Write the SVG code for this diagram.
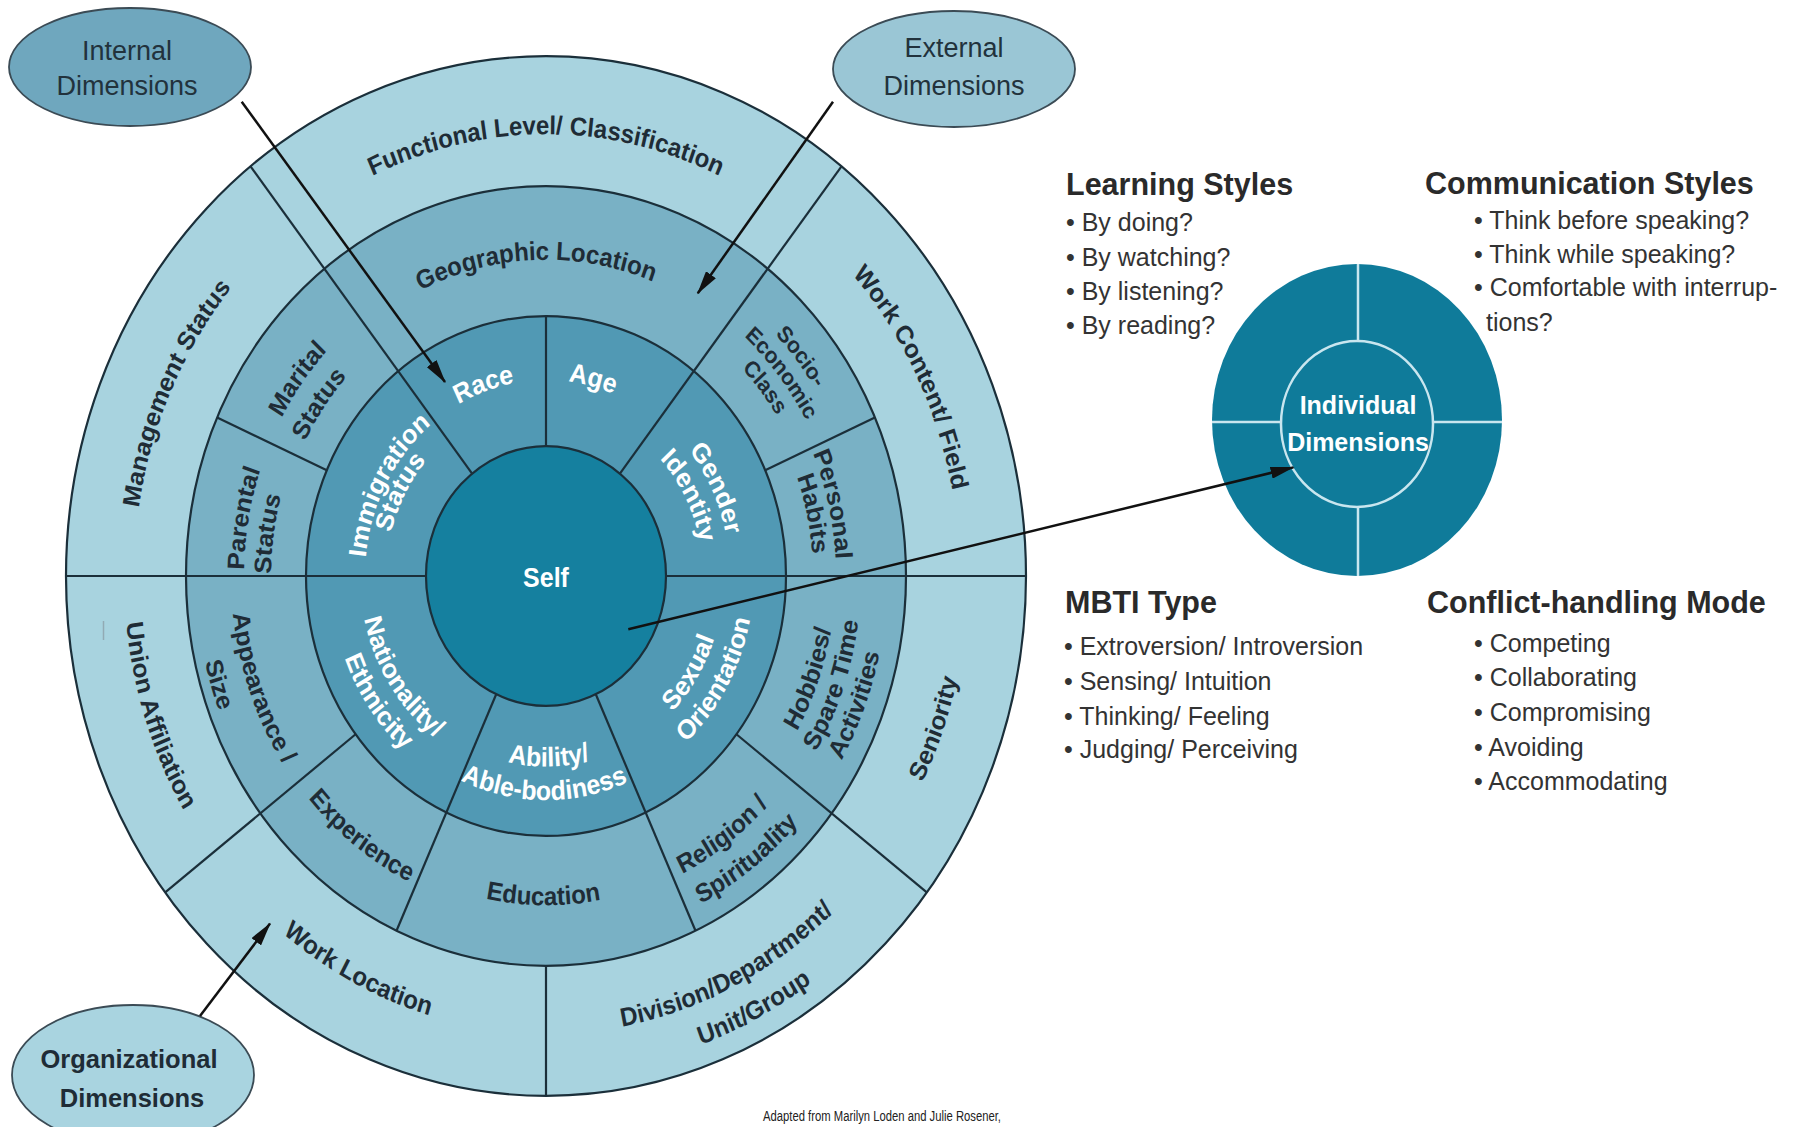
<svg xmlns="http://www.w3.org/2000/svg" width="1804" height="1127" viewBox="0 0 1804 1127">
<style>
.ring{stroke:#1b2f3a;stroke-width:2.2;vector-effect:non-scaling-stroke}
.dv{stroke:#1b2f3a;stroke-width:2.2;vector-effect:non-scaling-stroke;fill:none}
.ld{font-family:"Liberation Sans",Arial,sans-serif;font-weight:bold;font-size:24px;fill:#1f2c36}
.ls{font-family:"Liberation Sans",Arial,sans-serif;font-weight:bold;font-size:21px;fill:#1f2c36}
.lw{font-family:"Liberation Sans",Arial,sans-serif;font-weight:bold;font-size:25px;fill:#ffffff}
.ell{stroke:#3b4b55;stroke-width:1.8}
.et{font-family:"Liberation Sans",Arial,sans-serif;font-size:27px;fill:#22323c;text-anchor:middle}
.eb{font-family:"Liberation Sans",Arial,sans-serif;font-weight:bold;font-size:25.5px;fill:#1f2c36;text-anchor:middle}
.h{font-family:"Liberation Sans",Arial,sans-serif;font-weight:bold;font-size:30.5px;fill:#2a2a2a}
.b{font-family:"Liberation Sans",Arial,sans-serif;font-size:25px;fill:#333333}
.iw{font-family:"Liberation Sans",Arial,sans-serif;font-weight:bold;font-size:25px;fill:#ffffff;text-anchor:middle}
.conn{stroke:#111111;stroke-width:2.5;fill:none}
</style>
<defs>
<marker id="ah" viewBox="0 0 20 10" refX="19" refY="5" markerWidth="24" markerHeight="12" markerUnits="userSpaceOnUse" orient="auto"><path d="M0,0 L20,5 L0,10 Z" fill="#111111"/></marker>
<path id="cw408" d="M-408,0 A408,408 0 0 1 408,0"/>
<path id="cw412" d="M-412,0 A412,412 0 0 1 412,0"/>
<path id="cw414" d="M-414,0 A414,414 0 0 1 414,0"/>
<path id="cw292" d="M-292,0 A292,292 0 0 1 292,0"/>
<path id="cw302" d="M-302,0 A302,302 0 0 1 302,0"/>
<path id="cw271" d="M-271,0 A271,271 0 0 1 271,0"/>
<path id="cw275" d="M-275,0 A275,275 0 0 1 275,0"/>
<path id="cw320" d="M-320,0 A320,320 0 0 1 320,0"/>
<path id="cw297" d="M-297,0 A297,297 0 0 1 297,0"/>
<path id="cw274" d="M-274,0 A274,274 0 0 1 274,0"/>
<path id="cw290" d="M-290,0 A290,290 0 0 1 290,0"/>
<path id="cw267" d="M-267,0 A267,267 0 0 1 267,0"/>
<path id="cw181" d="M-181,0 A181,181 0 0 1 181,0"/>
<path id="cw184" d="M-184,0 A184,184 0 0 1 184,0"/>
<path id="cw157" d="M-157,0 A157,157 0 0 1 157,0"/>
<path id="cw160" d="M-160,0 A160,160 0 0 1 160,0"/>
<path id="ccw422" d="M-422,0 A422,422 0 0 0 422,0"/>
<path id="ccw423" d="M-423,0 A423,423 0 0 0 423,0"/>
<path id="ccw460" d="M-460,0 A460,460 0 0 0 460,0"/>
<path id="ccw289" d="M-289,0 A289,289 0 0 0 289,0"/>
<path id="ccw315" d="M-315,0 A315,315 0 0 0 315,0"/>
<path id="ccw341" d="M-341,0 A341,341 0 0 0 341,0"/>
<path id="ccw307" d="M-307,0 A307,307 0 0 0 307,0"/>
<path id="ccw340" d="M-340,0 A340,340 0 0 0 340,0"/>
<path id="ccw304" d="M-304,0 A304,304 0 0 0 304,0"/>
<path id="ccw314" d="M-314,0 A314,314 0 0 0 314,0"/>
<path id="ccw350" d="M-350,0 A350,350 0 0 0 350,0"/>
<path id="ccw176" d="M-176,0 A176,176 0 0 0 176,0"/>
<path id="ccw207" d="M-207,0 A207,207 0 0 0 207,0"/>
<path id="ccw186" d="M-186,0 A186,186 0 0 0 186,0"/>
<path id="ccw215" d="M-215,0 A215,215 0 0 0 215,0"/>
<path id="ccw178" d="M-178,0 A178,178 0 0 0 178,0"/>
<path id="ccw208" d="M-208,0 A208,208 0 0 0 208,0"/>
</defs>

<rect x="0" y="0" width="1804" height="1127" fill="#ffffff"/>

<g id="wheel" transform="translate(546,576) scale(1,1.083)">
  <g id="rings">
    <circle class="ring" r="480" fill="#a8d3df"/>
    <circle class="ring" r="360" fill="#79b1c5"/>
    <circle class="ring" r="240" fill="#5199b4"/>
    <circle class="ring" r="120" fill="#15809f"/>
  </g>
  <g id="dividers">
    <line class="dv" x1="-73.9" y1="-94.6" x2="-295.5" y2="-378.3"/>
    <line class="dv" x1="73.9" y1="-94.6" x2="295.5" y2="-378.3"/>
    <line class="dv" x1="-120" y1="0" x2="-480" y2="0"/>
    <line class="dv" x1="120" y1="0" x2="480" y2="0"/>
    <line class="dv" x1="0" y1="-120" x2="0" y2="-240"/>
    <line class="dv" x1="-219.2" y1="-97.6" x2="-328.9" y2="-146.4"/>
    <line class="dv" x1="219.2" y1="-97.6" x2="328.9" y2="-146.4"/>
    <line class="dv" x1="-49.8" y1="109.2" x2="-149.5" y2="327.6"/>
    <line class="dv" x1="49.8" y1="109.2" x2="149.5" y2="327.6"/>
    <line class="dv" x1="-190.4" y1="146.1" x2="-380.8" y2="292.2"/>
    <line class="dv" x1="190.4" y1="146.1" x2="380.8" y2="292.2"/>
    <line class="dv" x1="0" y1="360" x2="0" y2="480"/>
  </g>
  <g id="organizational-labels">
    <text class="ld"><textPath href="#cw408" startOffset="50%" text-anchor="middle">Functional Level/ Classification</textPath></text>
    <g transform="rotate(-65.5)"><text class="ld"><textPath href="#cw412" startOffset="50%" text-anchor="middle">Management Status</textPath></text></g>
    <g transform="rotate(63.4)"><text class="ld"><textPath href="#cw414" startOffset="50%" text-anchor="middle">Work Content/ Field</textPath></text></g>
    <g transform="rotate(71.6)"><text class="ld"><textPath href="#ccw422" startOffset="50%" text-anchor="middle">Union Affiliation</textPath></text></g>
    <g transform="rotate(-70.1)"><text class="ld"><textPath href="#ccw422" startOffset="50%" text-anchor="middle">Seniority</textPath></text></g>
    <g transform="rotate(27.3)"><text class="ld"><textPath href="#ccw422" startOffset="50%" text-anchor="middle">Work Location</textPath></text></g>
    <g transform="rotate(-26.6)"><text class="ld"><textPath href="#ccw423" startOffset="50%" text-anchor="middle">Division/Department/</textPath></text></g>
    <g transform="rotate(-27.5)"><text class="ld"><textPath href="#ccw460" startOffset="50%" text-anchor="middle">Unit/Group</textPath></text></g>
  </g>
  <g id="external-labels">
    <g transform="rotate(-2)"><text class="ld"><textPath href="#cw292" startOffset="50%" text-anchor="middle">Geographic Location</textPath></text></g>
    <g transform="rotate(-53.8)"><text class="ld"><textPath href="#cw302" startOffset="50%" text-anchor="middle">Marital</textPath></text></g>
    <g transform="rotate(-55)"><text class="ld"><textPath href="#cw271" startOffset="50%" text-anchor="middle">Status</textPath></text></g>
    <g transform="rotate(-80)"><text class="ld"><textPath href="#cw302" startOffset="50%" text-anchor="middle">Parental</textPath></text></g>
    <g transform="rotate(-82)"><text class="ld"><textPath href="#cw275" startOffset="50%" text-anchor="middle">Status</textPath></text></g>
    <g transform="rotate(51.5)"><text class="ls"><textPath href="#cw320" startOffset="50%" text-anchor="middle">Socio-</textPath></text></g>
    <g transform="rotate(51.5)"><text class="ls"><textPath href="#cw297" startOffset="50%" text-anchor="middle">Economic</textPath></text></g>
    <g transform="rotate(51.5)"><text class="ls"><textPath href="#cw274" startOffset="50%" text-anchor="middle">Class</textPath></text></g>
    <g transform="rotate(77)"><text class="ld"><textPath href="#cw290" startOffset="50%" text-anchor="middle">Personal</textPath></text></g>
    <g transform="rotate(77.8)"><text class="ld"><textPath href="#cw267" startOffset="50%" text-anchor="middle">Habits</textPath></text></g>
    <g transform="rotate(-70.25)"><text class="ld" font-size="22"><textPath href="#ccw289" startOffset="50%" text-anchor="middle">Hobbies/</textPath></text></g>
    <g transform="rotate(-70.7)"><text class="ld" font-size="22"><textPath href="#ccw315" startOffset="50%" text-anchor="middle">Spare Time</textPath></text></g>
    <g transform="rotate(-69)"><text class="ld" font-size="22"><textPath href="#ccw341" startOffset="50%" text-anchor="middle">Activities</textPath></text></g>
    <g transform="rotate(-36.4)"><text class="ld" font-size="22"><textPath href="#ccw307" startOffset="50%" text-anchor="middle">Religion /</textPath></text></g>
    <g transform="rotate(-37.5)"><text class="ld" font-size="22"><textPath href="#ccw340" startOffset="50%" text-anchor="middle">Spirituality</textPath></text></g>
    <g transform="rotate(0.5)"><text class="ld"><textPath href="#ccw304" startOffset="50%" text-anchor="middle">Education</textPath></text></g>
    <g transform="rotate(37.5)"><text class="ld"><textPath href="#ccw314" startOffset="50%" text-anchor="middle">Experience</textPath></text></g>
    <g transform="rotate(70)"><text class="ld"><textPath href="#ccw315" startOffset="50%" text-anchor="middle">Appearance /</textPath></text></g>
    <g transform="rotate(73)"><text class="ld"><textPath href="#ccw350" startOffset="50%" text-anchor="middle">Size</textPath></text></g>
  </g>
  <g id="internal-labels">
    <g transform="rotate(-19.5)"><text class="lw"><textPath href="#cw181" startOffset="50%" text-anchor="middle">Race</textPath></text></g>
    <g transform="rotate(14.5)"><text class="lw"><textPath href="#cw181" startOffset="50%" text-anchor="middle">Age</textPath></text></g>
    <g transform="rotate(64.5)"><text class="lw"><textPath href="#cw184" startOffset="50%" text-anchor="middle">Gender</textPath></text></g>
    <g transform="rotate(62.6)"><text class="lw"><textPath href="#cw157" startOffset="50%" text-anchor="middle">Identity</textPath></text></g>
    <g transform="rotate(-58.2)"><text class="lw"><textPath href="#ccw178" startOffset="50%" text-anchor="middle">Sexual</textPath></text></g>
    <g transform="rotate(-60.6)"><text class="lw"><textPath href="#ccw208" startOffset="50%" text-anchor="middle">Orientation</textPath></text></g>
    <g transform="rotate(-1)"><text class="lw"><textPath href="#ccw176" startOffset="50%" text-anchor="middle">Ability/</textPath></text></g>
    <g transform="rotate(0.5)"><text class="lw"><textPath href="#ccw207" startOffset="50%" text-anchor="middle">Able-bodiness</textPath></text></g>
    <g transform="rotate(57)"><text class="lw"><textPath href="#ccw186" startOffset="50%" text-anchor="middle">Nationality/</textPath></text></g>
    <g transform="rotate(55.4)"><text class="lw"><textPath href="#ccw215" startOffset="50%" text-anchor="middle">Ethnicity</textPath></text></g>
    <g transform="rotate(-62)"><text class="lw"><textPath href="#cw181" startOffset="50%" text-anchor="middle">Immigration</textPath></text></g>
    <g transform="rotate(-62)"><text class="lw"><textPath href="#cw160" startOffset="50%" text-anchor="middle">Status</textPath></text></g>
  </g>
  <g id="self">
    <text class="lw" font-size="31" x="0" y="10" text-anchor="middle">Self</text>
  </g>
</g>
<line x1="103.5" y1="621" x2="103.5" y2="640" stroke="#8a9aa2" stroke-width="1.5" opacity="0.7"/>

<g id="internal-dimensions">
  <ellipse class="ell" cx="130" cy="67" rx="121" ry="59" fill="#6fa7be"/>
  <text class="et" x="127" y="60">Internal</text>
  <text class="et" x="127" y="95">Dimensions</text>
</g>
<g id="external-dimensions">
  <ellipse class="ell" cx="954" cy="69" rx="121" ry="58" fill="#9ac6d5"/>
  <text class="et" x="954" y="57">External</text>
  <text class="et" x="954" y="95">Dimensions</text>
</g>
<g id="organizational-dimensions">
  <ellipse class="ell" cx="133" cy="1075" rx="121" ry="70" fill="#a9d4e0"/>
  <text class="eb" x="129" y="1068">Organizational</text>
  <text class="eb" x="132" y="1107">Dimensions</text>
</g>

<g id="individual-dimensions">
  <ellipse cx="1357" cy="420" rx="145" ry="156" fill="#0f7b9a"/>
  <ellipse cx="1357" cy="424" rx="76" ry="83" fill="none" stroke="#c9e6ef" stroke-width="2.5"/>
  <line x1="1358" y1="264" x2="1358" y2="341" stroke="#c9e6ef" stroke-width="2.5"/>
  <line x1="1358" y1="507" x2="1358" y2="576" stroke="#c9e6ef" stroke-width="2.5"/>
  <line x1="1212" y1="422" x2="1281" y2="422" stroke="#c9e6ef" stroke-width="2.5"/>
  <line x1="1433" y1="422" x2="1502" y2="422" stroke="#c9e6ef" stroke-width="2.5"/>
  <text class="iw" x="1358" y="414">Individual</text>
  <text class="iw" x="1358" y="451">Dimensions</text>
</g>

<g id="learning-styles">
  <text class="h" x="1066" y="195">Learning Styles</text>
  <text class="b" x="1066" y="231">• By doing?</text>
  <text class="b" x="1066" y="266">• By watching?</text>
  <text class="b" x="1066" y="300">• By listening?</text>
  <text class="b" x="1066" y="334">• By reading?</text>
</g>
<g id="communication-styles">
  <text class="h" x="1425" y="194">Communication Styles</text>
  <text class="b" x="1474" y="229">• Think before speaking?</text>
  <text class="b" x="1474" y="263">• Think while speaking?</text>
  <text class="b" x="1474" y="296">• Comfortable with interrup-</text>
  <text class="b" x="1486" y="331">tions?</text>
</g>
<g id="mbti-type">
  <text class="h" x="1065" y="613">MBTI Type</text>
  <text class="b" x="1064" y="655">• Extroversion/ Introversion</text>
  <text class="b" x="1064" y="690">• Sensing/ Intuition</text>
  <text class="b" x="1064" y="725">• Thinking/ Feeling</text>
  <text class="b" x="1064" y="758">• Judging/ Perceiving</text>
</g>
<g id="conflict-handling-mode">
  <text class="h" x="1427" y="613">Conflict-handling Mode</text>
  <text class="b" x="1474" y="652">• Competing</text>
  <text class="b" x="1474" y="686">• Collaborating</text>
  <text class="b" x="1474" y="721">• Compromising</text>
  <text class="b" x="1474" y="756">• Avoiding</text>
  <text class="b" x="1474" y="790">• Accommodating</text>
</g>

<g id="connectors">
  <line class="conn" x1="241.7" y1="101.7" x2="445" y2="382" marker-end="url(#ah)"/>
  <line class="conn" x1="833" y1="101.7" x2="697.8" y2="293.3" marker-end="url(#ah)"/>
  <line class="conn" x1="200" y1="1016" x2="270" y2="923.6" marker-end="url(#ah)"/>
  <line class="conn" x1="628.3" y1="629.3" x2="1293.4" y2="467.4" marker-end="url(#ah)"/>
</g>

<text x="763" y="1121" font-family="'Liberation Sans',Arial,sans-serif" font-size="15.5" fill="#222222" textLength="238" lengthAdjust="spacingAndGlyphs">Adapted from Marilyn Loden and Julie Rosener,</text>
</svg>
